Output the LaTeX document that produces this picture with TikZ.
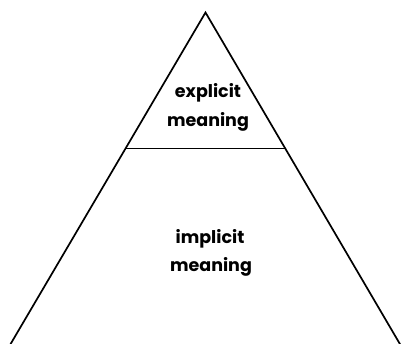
\documentclass[tikz,border=0pt]{standalone}
\usepackage{fontspec}
\setmainfont{Poppins}
\usetikzlibrary{calc}
\tikzset{
  edge/.style={line width=1.7pt, line join=miter, line cap=butt},
  lbl/.style={anchor=base, inner sep=0pt, font=\fontsize{17.5}{20}\selectfont\bfseries}
}
\begin{document}
\begin{tikzpicture}[x=1pt,y=-1pt]
\useasboundingbox (0,0) rectangle (403,344);
\coordinate (apex) at (205.5,12.5);
\coordinate (bl) at (10,345);
\coordinate (br) at (400.5,345);
\coordinate (ml) at ($(apex)!0.4087!(bl)$);
\coordinate (mr) at ($(apex)!0.4087!(br)$);
\draw[edge] (bl) -- (apex) -- (br);
\draw[edge] (ml) -- (mr);
\node[lbl] (e1) at (208,98) {explicit};
\node[lbl] (e2) at (208,126.5) {meaning};
\node[lbl] (i1) at (210,243) {implicit};
\node[lbl] (i2) at (211,271.5) {meaning};
\end{tikzpicture}
\end{document}
